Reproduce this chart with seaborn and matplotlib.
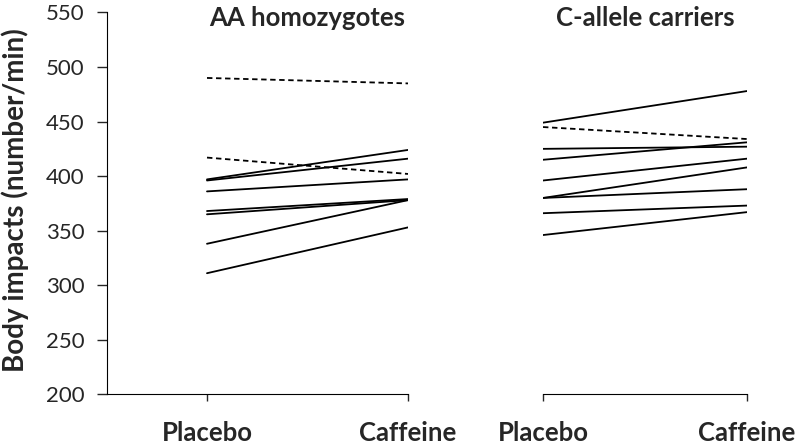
import numpy as np
import pandas as pd
import matplotlib
matplotlib.use('Agg')
import matplotlib.pyplot as plt
import seaborn as sns

# body impacts per subject
conditions = ['Placebo', 'Caffeine']
aa_placebo = [490, 417, 397, 396, 386, 368, 365, 338, 311]
aa_caffeine = [485, 402, 424, 416, 397, 379, 378, 378, 353]
aa_dashed = [True, True, False, False, False, False, False, False, False]
c_placebo = [449, 445, 425, 415, 396, 380, 380, 366, 346]
c_caffeine = [478, 434, 427, 431, 416, 408, 388, 373, 367]
c_dashed = [False, True, False, False, False, False, False, False, False]
yticks = [200, 250, 300, 350, 400, 450, 500, 550]


def long_df(placebo, caffeine, dashed):
    rows = []
    for i, (p, c, d) in enumerate(zip(placebo, caffeine, dashed)):
        rows.append({'subject': i, 'x': 0, 'impacts': p, 'dashed': d})
        rows.append({'subject': i, 'x': 1, 'impacts': c, 'dashed': d})
    return pd.DataFrame(rows)


aa_df = long_df(aa_placebo, aa_caffeine, aa_dashed)
c_df = long_df(c_placebo, c_caffeine, c_dashed)

sns.set_style('white')
plt.rcParams['font.family'] = ['Lato', 'DejaVu Sans']

fig = plt.figure(figsize=(8, 4.45), dpi=100)
W, H = 800, 445
top, bottom = 1 - 12.5 / H, 1 - 394.3 / H
ax1 = fig.add_axes([107 / W, bottom, (408 - 107) / W, top - bottom])
ax2 = fig.add_axes([543 / W, bottom, (747 - 543) / W, top - bottom])

dash_map = {False: '', True: (3, 2)}
for ax, df, title in [(ax1, aa_df, 'AA homozygotes'), (ax2, c_df, 'C-allele carriers')]:
    sns.lineplot(data=df, x='x', y='impacts', units='subject', estimator=None,
                 style='dashed', dashes=dash_map, color='black', linewidth=1.3,
                 legend=False, ax=ax)
    ax.set_ylim(200, 550)
    ax.set_xticks([0, 1])
    ax.set_xticklabels(conditions, fontsize=18.5, fontweight='bold')
    ax.tick_params(axis='x', direction='out', length=5, width=1, pad=14, bottom=True)
    ax.set_xlabel('')
    ax.text(0.5, 556, title, ha='center', va='top', fontsize=18.5, fontweight='bold')
    for s in ['top', 'right']:
        ax.spines[s].set_visible(False)
    ax.spines['bottom'].set_color('black')

ax1.set_xlim(-(207 - 107) / (408 - 207), 1)
ax1.set_yticks(yticks)
ax1.tick_params(axis='y', direction='out', length=7, width=1, labelsize=16, pad=9, left=True)
ax1.spines['left'].set_color('black')
ax1.set_ylabel('')
fig.text(15 / W, 1 - 200 / H, 'Body impacts (number/min)', rotation=90,
         ha='center', va='center', fontsize=20, fontweight='bold')

ax2.set_xlim(0, 1)
ax2.spines['left'].set_visible(False)
ax2.set_yticks([])
ax2.set_ylabel('')

fig.savefig('out.png', dpi=100)
